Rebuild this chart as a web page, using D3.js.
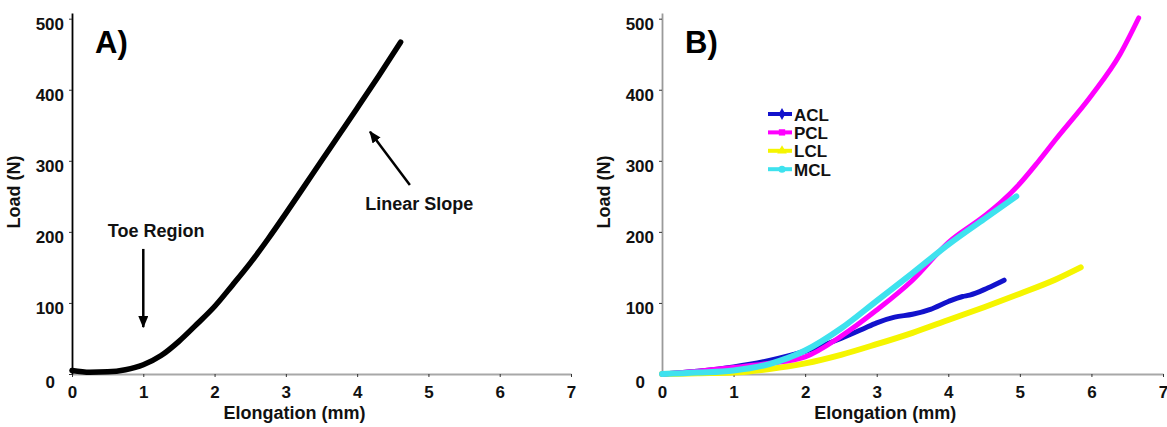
<!DOCTYPE html>
<html>
<head>
<meta charset="utf-8">
<script src="https://cdn.jsdelivr.net/npm/d3@7"></script>
<style>
  html, body { margin: 0; padding: 0; background: #fff; }
  svg { display: block; font-family: "Liberation Sans", Arial, Helvetica, sans-serif; font-weight: bold; }
</style>
</head>
<body>
<svg id="chart" width="1167" height="427"></svg>
<script>
// ---- Panel A: generic load–elongation curve of a ligament ----
const typicalElong = [0, 0.25, 0.5, 0.75, 1.0, 1.25, 1.5, 1.75, 2.0, 2.25, 2.5, 2.75, 3.0, 3.25, 3.5, 3.75, 4.0, 4.3, 4.61];
const typicalLoad  = [5, 2.5, 3, 6, 13, 26, 46, 70, 95, 125, 156, 190, 226, 263, 300, 337, 374, 419, 467];

// ---- Panel B: measured curves for the four knee ligaments ----
const aclElong = [0, 0.5, 1, 1.5, 2, 2.5, 2.8, 3.0, 3.25, 3.5, 3.75, 4.0, 4.2, 4.3, 4.55, 4.78];
const aclLoad  = [0, 4, 10, 19, 32, 50, 63, 72, 80, 84, 91, 102, 109, 111, 121, 132];

const pclElong = [0, 0.5, 1, 1.5, 2, 2.5, 3, 3.5, 4, 4.5, 4.75, 5.0, 5.25, 5.5, 6.0, 6.4, 6.66];
const pclLoad  = [0, 4, 9, 15, 24, 53, 90, 132, 185, 222, 243, 268, 298, 330, 392, 450, 501];

const lclElong = [0, 0.5, 1, 1.5, 2, 2.5, 3, 3.5, 4, 4.5, 5, 5.5, 5.85];
const lclLoad  = [0, 1, 2, 7, 15, 27, 42, 58, 76, 94, 113, 133, 150];

const mclElong = [0, 0.5, 1, 1.5, 2, 2.5, 3, 3.5, 4, 4.5, 4.95];
const mclLoad  = [0, 2, 5, 14, 33, 64, 103, 142, 182, 218, 250];

const ligamentNames  = ["ACL", "PCL", "LCL", "MCL"];
const ligamentColors = ["#1212cc", "#ff00ff", "#f5f500", "#3ee2ee"];
const legendSymbols  = [d3.symbolDiamond, d3.symbolSquare, d3.symbolTriangle, d3.symbolCircle];

// ---- axes ----
const xTickValues = [0, 1, 2, 3, 4, 5, 6, 7];
const yTickValues = [0, 100, 200, 300, 400, 500];
const xTitle = "Elongation (mm)";
const yTitle = "Load (N)";

// annotations in panel A (data units)
const toeLabel = { text: "Toe Region", x: 1.18, y: 193, arrowX: 1.0, arrowFrom: 176, arrowTo: 66 };
const slopeLabel = { text: "Linear Slope", x: 4.87, y: 231, fromX: 4.74, fromY: 266, toX: 4.18, toY: 341 };

const svg = d3.select("#chart");

svg.append("defs").append("marker")
  .attr("id", "head")
  .attr("markerUnits", "userSpaceOnUse")
  .attr("viewBox", "0 0 12 10")
  .attr("markerWidth", 12).attr("markerHeight", 10)
  .attr("refX", 11).attr("refY", 5)
  .attr("orient", "auto")
  .append("path").attr("d", "M0,0 L12,5 L0,10 Z").attr("fill", "#000");

const intFormat = d3.format("d");

function makePanel(left, right, yAxisColor, letter) {
  const x = d3.scaleLinear().domain([0, 7]).range([left, right]);
  const y = d3.scaleLinear().domain([0, 508]).range([374, 13]);
  const g = svg.append("g");

  // x axis
  const gx = g.append("g").attr("transform", "translate(0,374)")
    .call(d3.axisBottom(x).tickValues(xTickValues).tickFormat(intFormat)
      .tickSize(3).tickSizeOuter(0).tickPadding(9));
  gx.select(".domain").attr("stroke", "#a8a8a8").attr("stroke-width", 2);
  gx.selectAll(".tick line").attr("stroke", "#333");
  gx.selectAll(".tick text").attr("font-size", 17).attr("fill", "#111")
    .attr("font-family", "Liberation Sans, Arial, sans-serif").attr("font-weight", "bold");

  // y axis
  const gy = g.append("g").attr("transform", `translate(${left},0)`)
    .call(d3.axisLeft(y).tickValues(yTickValues).tickFormat(intFormat)
      .tickSize(3).tickSizeOuter(0).tickPadding(5));
  gy.select(".domain").attr("stroke", yAxisColor).attr("stroke-width", 1.8);
  gy.selectAll(".tick line").attr("stroke", "#333");
  gy.selectAll(".tick text").attr("font-size", 17).attr("fill", "#111")
    .attr("font-family", "Liberation Sans, Arial, sans-serif").attr("font-weight", "bold")
    .attr("dy", "0.62em");
  // the zero label sits a little lower and further left, clear of the x axis
  gy.selectAll(".tick").filter(d => d === 0).select("text").attr("dx", -9).attr("dy", "0.8em");

  // titles
  g.append("text")
    .attr("transform", `translate(${left - 52},192) rotate(-90)`)
    .attr("text-anchor", "middle").attr("font-size", 18).attr("fill", "#111")
    .text(yTitle);

  g.append("text")
    .attr("x", x(3.12)).attr("y", 419)
    .attr("text-anchor", "middle").attr("font-size", 18).attr("fill", "#111")
    .text(xTitle);

  g.append("text")
    .attr("x", left + 23).attr("y", 53)
    .attr("font-size", 31).attr("fill", "#000")
    .text(letter);

  return { x, y, g };
}

// ---- Panel A ----
const A = makePanel(72, 571, "#000", "A)");
const lineA = d3.line().x(d => A.x(d[0])).y(d => A.y(d[1])).curve(d3.curveMonotoneX);
A.g.append("path")
  .datum(d3.zip(typicalElong, typicalLoad))
  .attr("d", lineA)
  .attr("fill", "none").attr("stroke", "#000").attr("stroke-width", 5.5)
  .attr("stroke-linecap", "round").attr("stroke-linejoin", "round");

A.g.append("line")
  .attr("x1", A.x(toeLabel.arrowX)).attr("y1", A.y(toeLabel.arrowFrom))
  .attr("x2", A.x(toeLabel.arrowX)).attr("y2", A.y(toeLabel.arrowTo))
  .attr("stroke", "#000").attr("stroke-width", 2.5).attr("marker-end", "url(#head)");
A.g.append("text")
  .attr("x", A.x(toeLabel.x)).attr("y", A.y(toeLabel.y))
  .attr("text-anchor", "middle").attr("font-size", 18).attr("fill", "#111")
  .text(toeLabel.text);

A.g.append("line")
  .attr("x1", A.x(slopeLabel.fromX)).attr("y1", A.y(slopeLabel.fromY))
  .attr("x2", A.x(slopeLabel.toX)).attr("y2", A.y(slopeLabel.toY))
  .attr("stroke", "#000").attr("stroke-width", 2.5).attr("marker-end", "url(#head)");
A.g.append("text")
  .attr("x", A.x(slopeLabel.x)).attr("y", A.y(slopeLabel.y))
  .attr("text-anchor", "middle").attr("font-size", 18).attr("fill", "#111")
  .text(slopeLabel.text);

// ---- Panel B ----
const B = makePanel(662, 1163, "#9a9a9a", "B)");
const lineB = d3.line().x(d => B.x(d[0])).y(d => B.y(d[1])).curve(d3.curveMonotoneX);
const ligaments = [
  { name: "ACL", pts: d3.zip(aclElong, aclLoad) },
  { name: "PCL", pts: d3.zip(pclElong, pclLoad) },
  { name: "LCL", pts: d3.zip(lclElong, lclLoad) },
  { name: "MCL", pts: d3.zip(mclElong, mclLoad) }
];
const colorOf = d3.scaleOrdinal().domain(ligamentNames).range(ligamentColors);
// stacking order: LCL underneath, MCL on top
const drawOrder = ["LCL", "ACL", "PCL", "MCL"];
B.g.selectAll("path.lig")
  .data(drawOrder.map(n => ligaments.find(l => l.name === n)))
  .join("path")
  .attr("class", "lig")
  .attr("d", d => lineB(d.pts))
  .attr("fill", "none")
  .attr("stroke", d => colorOf(d.name))
  .attr("stroke-width", d => d.name === "MCL" || d.name === "LCL" ? 6 : 5)
  .attr("stroke-linecap", "round").attr("stroke-linejoin", "round");

// legend
const legend = B.g.append("g").attr("transform", "translate(768,114)");
const rows = legend.selectAll("g").data(ligamentNames).join("g")
  .attr("transform", (d, i) => `translate(0,${i * 18.4})`);
rows.append("line").attr("x1", 0).attr("x2", 24).attr("y1", 0).attr("y2", 0)
  .attr("stroke", d => colorOf(d)).attr("stroke-width", 4);
rows.append("path")
  .attr("transform", "translate(14,0)")
  .attr("d", (d, i) => d3.symbol().type(legendSymbols[i]).size(40)())
  .attr("fill", d => colorOf(d));
rows.append("text").attr("x", 26).attr("y", 6.5)
  .attr("font-size", 17).attr("fill", "#111").text(d => d);
</script>
</body>
</html>
